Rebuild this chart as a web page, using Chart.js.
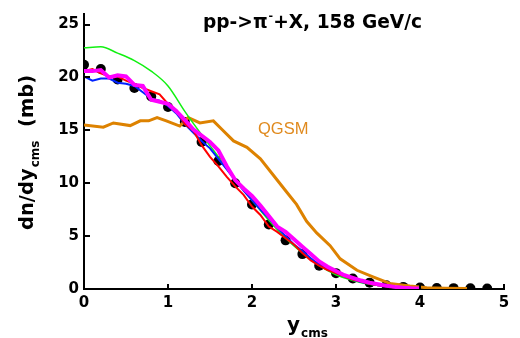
<!DOCTYPE html>
<html>
<head>
<meta charset="utf-8">
<script src="https://cdn.jsdelivr.net/npm/chart.js@4/dist/chart.umd.min.js"></script>
<style>
html,body{margin:0;padding:0;background:#fff;}
#wrap{width:520px;height:338px;position:relative;}
</style>
</head>
<body>
<div id="wrap"><canvas id="c" width="520" height="338"></canvas></div>
<script>
// ---- data ----
const dataX = [0,0.2,0.4,0.6,0.8,1.0,1.2,1.4,1.6,1.8,2.0,2.2,2.4,2.6,2.8,3.0,3.2,3.4,3.6,3.8,4.0,4.2,4.4,4.6,4.8];
const dataY = [21.2,20.8,19.8,19.0,18.2,17.2,15.8,13.9,12.1,10.0,8.0,6.1,4.6,3.3,2.2,1.5,1.0,0.6,0.35,0.2,0.15,0.1,0.08,0.06,0.05];

const greenX = [0,0.2,0.4,0.6,0.8,1.0,1.2,1.4,1.6,1.8,2.0,2.2,2.4,2.6,2.8,3.0,3.2,3.4,3.6,3.8,4.0];
const greenY = [22.8,22.9,22.3,21.6,20.6,19.2,16.8,14.6,12.5,10.3,8.4,6.5,4.8,3.4,2.2,1.35,0.8,0.45,0.25,0.12,0.05];

const fineX = [0,0.1,0.2,0.3,0.4,0.5,0.6,0.7,0.8,0.9,1.0,1.1,1.2,1.3,1.4,1.5,1.6,1.7,1.8,1.9,2.0,2.1,2.2,2.3,2.4,2.5,2.6,2.7,2.8,2.9,3.0,3.1,3.2,3.3,3.4,3.5,3.6,3.7,3.8,3.9,4.0];
const redY = [20.6,20.8,20.4,20.1,20.1,19.7,19.4,19.0,18.7,18.4,17.5,16.9,15.6,15.0,13.6,12.5,11.6,10.6,9.7,8.9,7.8,7.0,5.9,5.4,4.8,4.2,3.4,2.7,2.2,1.8,1.5,1.2,0.9,0.7,0.5,0.35,0.25,0.15,0.1,0.06,0.04];
const blueY = [20.1,19.7,19.9,19.9,19.5,19.4,19.2,18.6,18.0,17.8,17.3,16.6,15.6,14.8,14.0,13.3,12.3,11.3,10.3,9.3,8.4,7.5,6.7,5.8,5.0,4.2,3.6,2.9,2.3,1.9,1.5,1.2,0.9,0.65,0.5,0.35,0.25,0.15,0.1,0.06,0.04];
const magentaY = [20.6,20.6,20.7,20.0,20.2,20.1,19.3,19.2,17.9,17.7,17.5,16.8,16.0,15.1,14.5,13.9,13.1,11.6,10.3,9.5,8.8,7.9,6.9,5.9,5.4,4.7,4.0,3.3,2.6,2.1,1.7,1.3,1.05,0.8,0.6,0.45,0.3,0.2,0.12,0.07,0.04];

const qgsmX = [0,0.23,0.35,0.55,0.67,0.77,0.87,0.98,1.14,1.24,1.38,1.54,1.64,1.78,1.94,2.1,2.29,2.41,2.53,2.65,2.77,2.93,3.05,3.25,3.44,3.64,3.88,4.08,4.3,4.56];
const qgsmY = [15.5,15.3,15.7,15.45,15.9,15.9,16.2,15.9,15.4,16.2,15.7,15.9,15.1,14.0,13.4,12.3,10.4,9.2,8.0,6.4,5.3,4.1,2.85,1.77,1.15,0.53,0.28,0.12,0.07,0.05];

const xTicks = [0,1,2,3,4,5];
const yTicks = [0,5,10,15,20,25];

const titleMain = "pp->\u03c0";
const titleSup = "-";
const titleRest = "+X, 158 GeV/c";
const yTitleMain = "dn/dy";
const yTitleSub = "cms";
const yTitleRest = "  (mb)";
const xTitleMain = "y";
const xTitleSub = "cms";
const qgsmLabel = "QGSM";

const pts = (xs, ys) => xs.map((x, i) => ({x: x, y: ys[i]}));

const FONT = "'DejaVu Sans', Verdana, sans-serif";

const decor = {
  id: 'decor',
  afterDraw(chart) {
    const ctx = chart.ctx;
    const xs = chart.scales.x, ys = chart.scales.y;
    const ca = chart.chartArea;
    ctx.save();
    // inward ticks
    ctx.strokeStyle = '#000';
    ctx.lineWidth = 2;
    xTicks.forEach(v => {
      const px = Math.round(xs.getPixelForValue(v));
      ctx.beginPath(); ctx.moveTo(px, ca.bottom); ctx.lineTo(px, ca.bottom - 5); ctx.stroke();
    });
    yTicks.forEach(v => {
      const py = Math.round(ys.getPixelForValue(v));
      ctx.beginPath(); ctx.moveTo(ca.left, py); ctx.lineTo(ca.left + 6, py); ctx.stroke();
    });
    ctx.fillStyle = '#000';
    // title
    ctx.textBaseline = 'alphabetic';
    ctx.textAlign = 'left';
    let tx = 203, ty = 28;
    ctx.font = "bold 18.6px " + FONT;
    ctx.fillText(titleMain, tx, ty); tx += ctx.measureText(titleMain).width + 1;
    ctx.font = "bold 11px " + FONT;
    ctx.fillText(titleSup, tx, ty - 9); tx += ctx.measureText(titleSup).width;
    ctx.font = "bold 18.6px " + FONT;
    ctx.fillText(titleRest, tx, ty);
    // QGSM label
    ctx.fillStyle = '#E08A1E';
    ctx.font = "16.5px 'Liberation Sans', Arial, sans-serif";
    ctx.fillText(qgsmLabel, 258, 134);
    // x title
    ctx.fillStyle = '#000';
    let xx = 287, xy = 331;
    ctx.font = "bold 20px " + FONT;
    ctx.fillText(xTitleMain, xx, xy); xx += ctx.measureText(xTitleMain).width + 1;
    ctx.font = "bold 12px " + FONT;
    ctx.fillText(xTitleSub, xx, xy + 6);
    // y title rotated
    ctx.translate(33, 230);
    ctx.rotate(-Math.PI / 2);
    let yx = 0;
    ctx.font = "bold 19.5px " + FONT;
    ctx.fillText(yTitleMain, yx, 0); yx += ctx.measureText(yTitleMain).width + 1;
    ctx.font = "bold 12px " + FONT;
    ctx.fillText(yTitleSub, yx, 6); yx += ctx.measureText(yTitleSub).width;
    ctx.font = "bold 19.5px " + FONT;
    ctx.fillText(yTitleRest, yx, 0);
    ctx.restore();
  }
};

const lineDs = (label, xs, ys, color, w, order, extra) => Object.assign({
  label: label, data: pts(xs, ys), borderColor: color, backgroundColor: color,
  borderWidth: w, pointRadius: 0, showLine: true, fill: false, order: order, tension: 0
}, extra || {});

new Chart(document.getElementById('c'), {
  type: 'scatter',
  data: {
    datasets: [
      {label: 'data', data: pts(dataX, dataY), backgroundColor: '#000', borderColor: '#000',
       pointRadius: 5, pointBorderWidth: 0, showLine: false, order: 10, clip: 0},
      lineDs('QGSM', qgsmX, qgsmY, '#DD8200', 3, 6),
      lineDs('green', greenX, greenY, '#11F011', 1.5, 5, {cubicInterpolationMode: 'monotone'}),
      lineDs('blue', fineX, blueY, '#0022FF', 2, 4),
      lineDs('red', fineX, redY, '#FF0000', 2, 3),
      lineDs('magenta', fineX, magentaY, '#FF00FF', 4, 2)
    ]
  },
  options: {
    responsive: false,
    animation: false,
    devicePixelRatio: 1,
    layout: {padding: {top: 9, right: 16, left: 0, bottom: 0}},
    plugins: {legend: {display: false}, tooltip: {enabled: false}, title: {display: false}},
    scales: {
      x: {
        type: 'linear', min: 0, max: 5,
        afterBuildTicks: s => { s.ticks = xTicks.map(v => ({value: v})); },
        afterFit: s => { s.height = 49; },
        grid: {display: false, drawTicks: false},
        border: {display: true, color: '#000', width: 2},
        ticks: {color: '#000', font: {family: FONT, size: 15, weight: 'bold'}, padding: 5, maxRotation: 0, autoSkip: false}
      },
      y: {
        type: 'linear', min: 0, max: 26,
        afterBuildTicks: s => { s.ticks = yTicks.map(v => ({value: v})); },
        afterFit: s => { s.width = 84; },
        grid: {display: false, drawTicks: false},
        border: {display: true, color: '#000', width: 2},
        ticks: {color: '#000', font: {family: FONT, size: 15, weight: 'bold'}, padding: 5, autoSkip: false}
      }
    }
  },
  plugins: [decor]
});
</script>
</body>
</html>
